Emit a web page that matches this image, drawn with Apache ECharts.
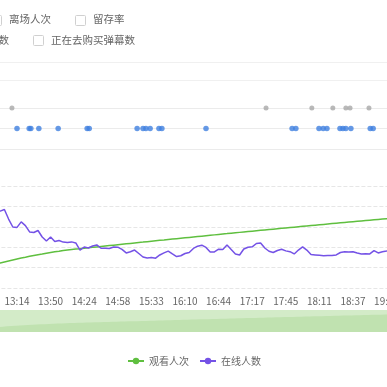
<!DOCTYPE html>
<html>
<head>
<meta charset="utf-8">
<script src="https://cdn.jsdelivr.net/npm/echarts@6.0.0/dist/echarts.min.js"></script>
<style>
html,body{margin:0;padding:0;width:387px;height:387px;overflow:hidden;background:#fff;}
#c{position:absolute;left:-126px;top:0;width:640px;height:387px;}
</style>
</head>
<body>
<div id="c"></div>
<script>
// ---- data ----
const times = [
 '12:38','12:42','12:47','12:51','12:56','13:00','13:05','13:09',
 '13:14','13:18','13:23','13:27','13:32','13:36','13:41','13:45',
 '13:50','13:54','13:58','14:03','14:07','14:11','14:16','14:20',
 '14:24','14:28','14:32','14:37','14:41','14:45','14:50','14:54',
 '14:58','15:02','15:07','15:11','15:15','15:20','15:24','15:28',
 '15:33','15:37','15:42','15:47','15:51','15:56','16:01','16:05',
 '16:10','16:14','16:18','16:23','16:27','16:31','16:36','16:40',
 '16:44','16:48','16:52','16:56','17:00','17:05','17:09','17:13',
 '17:17','17:20','17:24','17:27','17:31','17:34','17:38','17:41',
 '17:45','17:48','17:51','17:55','17:58','18:01','18:04','18:08',
 '18:11','18:14','18:17','18:21','18:24','18:27','18:30','18:34',
 '18:37','18:40','18:43','18:47','18:50','18:53','18:56','19:00',
 '19:03','19:06','19:09','19:12'
];
const viewCounts = [
 5025,5319,5588,5882,6128,6373,6618,6863,7108,7353,
 7549,7770,7966,8162,8333,8529,8701,8873,9020,9191,
 9314,9420,9530,9636,9745,9852,9960,10068,10177,10284,
 10392,10500,10607,10716,10823,10930,11040,11148,11255,11364,
 11472,11575,11680,11782,11886,11990,12092,12195,12298,12402,
 12505,12608,12712,12815,12918,13021,13125,13228,13330,13433,
 13536,13634,13732,13830,13929,14027,14125,14223,14321,14420,
 14518,14616,14714,14812,14910,15008,15106,15204,15302,15400,
 15498,15592,15686,15780,15874,15968,16062,16156,16250,16344,
 16438,16532,16626,16720,16814,16908,17002,17096,17190,17284
];
const onlineCounts = [
 333,353,363,373,377,385,338,299,297,324,
 306,275,272,282,250,230,250,228,233,225,
 223,226,221,186,201,196,206,211,195,195,
 194,201,200,189,172,178,186,169,152,147,
 150,146,162,172,181,167,154,158,169,174,
 194,205,210,199,176,177,190,189,211,189,
 167,162,191,200,202,218,221,196,180,174,
 184,190,182,178,167,186,202,186,164,162,
 160,158,159,159,162,174,178,177,178,172,
 167,168,167,183,172,178,181,186,181,176
];
// event rows (x = position along the time index)
const grayEvents = [6.8, 67.3, 78.2, 83.2, 86.3, 87.3, 91.8];
const blueEvents = [8.0, 10.9, 11.3, 13.2, 17.8, 24.7, 25.2, 36.6, 38.0, 38.7, 39.7, 41.8, 42.5,
  53.0, 73.5, 74.4, 79.9, 80.9, 81.8, 84.9, 85.6, 86.3, 87.5, 92.1, 92.8];
const topLegendRows = [['进场人次','离场人次','留存率'], ['正在去购买用户数','正在去购买弹幕数']];
const seriesNames = ['观看人次','在线人数'];

// ---- chart ----
const FONT = '"Noto Sans CJK SC", "Noto Sans", sans-serif';
const graphics = [];
topLegendRows.forEach((row, r) => {
  let x = 33;
  const cy = r === 0 ? 19.5 : 40;
  row.forEach(name => {
    graphics.push({type:'rect', shape:{x:x+0.5, y:Math.round(cy-5)+0.5, width:10, height:10, r:1},
      style:{fill:'#fff', stroke:'#d0d0d0', lineWidth:1}});
    graphics.push({type:'text', x:x+18, y:cy,
      style:{text:name, fill:'#666', fontSize:10.5, fontFamily:FONT, verticalAlign:'middle'}});
    x += 18 + name.length*10.5 + 24;
  });
});

const GL = 109.4, GR = 114.8;
const hiddenAxis = {axisLabel:{show:false}, axisLine:{show:false}, axisTick:{show:false}};
const chart = echarts.init(document.getElementById('c'));
chart.setOption({
  animation:false,
  textStyle:{fontFamily:FONT},
  graphic: graphics,
  legend:{data:seriesNames, top:351, left:'center', itemWidth:16, itemHeight:8, itemGap:10,
    textStyle:{fontSize:10, color:'#666'}},
  grid:[
    {left:GL, right:GR, top:186, height:102},
    {left:GL, right:GR, top:108, height:41},
    {left:GL, right:GR, top:62, height:18}
  ],
  xAxis:[
    {type:'category', gridIndex:0, data:times, boundaryGap:false,
     axisLine:{show:false}, axisTick:{show:false},
     axisLabel:{interval:7, color:'#666', fontSize:10, margin:8}},
    {type:'value', gridIndex:1, min:0, max:times.length-1, show:false},
    {type:'value', gridIndex:2, min:0, max:times.length-1, show:false}
  ],
  yAxis:[
    Object.assign({type:'value', gridIndex:0, min:0, max:25000, interval:5000,
     splitLine:{lineStyle:{type:'dashed', color:'#e6e6e6'}}}, hiddenAxis),
    Object.assign({type:'value', gridIndex:0, min:0, max:500, interval:100, position:'right',
     splitLine:{show:false}}, hiddenAxis),
    Object.assign({type:'value', gridIndex:1, min:0, max:2, interval:1,
     splitLine:{lineStyle:{color:'#ebebeb'}}}, hiddenAxis),
    Object.assign({type:'value', gridIndex:2, min:0, max:1, interval:1,
     splitLine:{lineStyle:{color:'#f0f0f0'}}}, hiddenAxis)
  ],
  dataZoom:[{type:'slider', xAxisIndex:0, start:0, end:100, left:GL, right:GR, top:310, height:22,
    backgroundColor:'transparent', borderColor:'transparent',
    fillerColor:'rgba(145,204,117,0.4)',
    dataBackground:{lineStyle:{opacity:0}, areaStyle:{color:'#dff1d7', opacity:1}},
    selectedDataBackground:{lineStyle:{opacity:0}, areaStyle:{color:'#dff1d7', opacity:1}},
    showDetail:false, brushSelect:false, moveHandleSize:0,
    moveHandleStyle:{opacity:0}, handleStyle:{opacity:0}}],
  series:[
    {name:seriesNames[0], type:'line', xAxisIndex:0, yAxisIndex:0, data:viewCounts,
     showSymbol:false, symbol:'circle', lineStyle:{width:1.5, color:'#5fbf3f'}, itemStyle:{color:'#5fbf3f'}},
    {name:seriesNames[1], type:'line', xAxisIndex:0, yAxisIndex:1, data:onlineCounts,
     showSymbol:false, symbol:'circle', lineStyle:{width:1.5, color:'#7452e6'}, itemStyle:{color:'#7452e6'}},
    {name:'gray', type:'scatter', xAxisIndex:1, yAxisIndex:2, symbolSize:5,
     data:grayEvents.map(x=>[x,2]), itemStyle:{color:'#a8a8a8'}},
    {name:'blue', type:'scatter', xAxisIndex:1, yAxisIndex:2, symbolSize:5.5,
     data:blueEvents.map(x=>[x,1]), itemStyle:{color:'#3f7fe0'}}
  ]
});
</script>
</body>
</html>
